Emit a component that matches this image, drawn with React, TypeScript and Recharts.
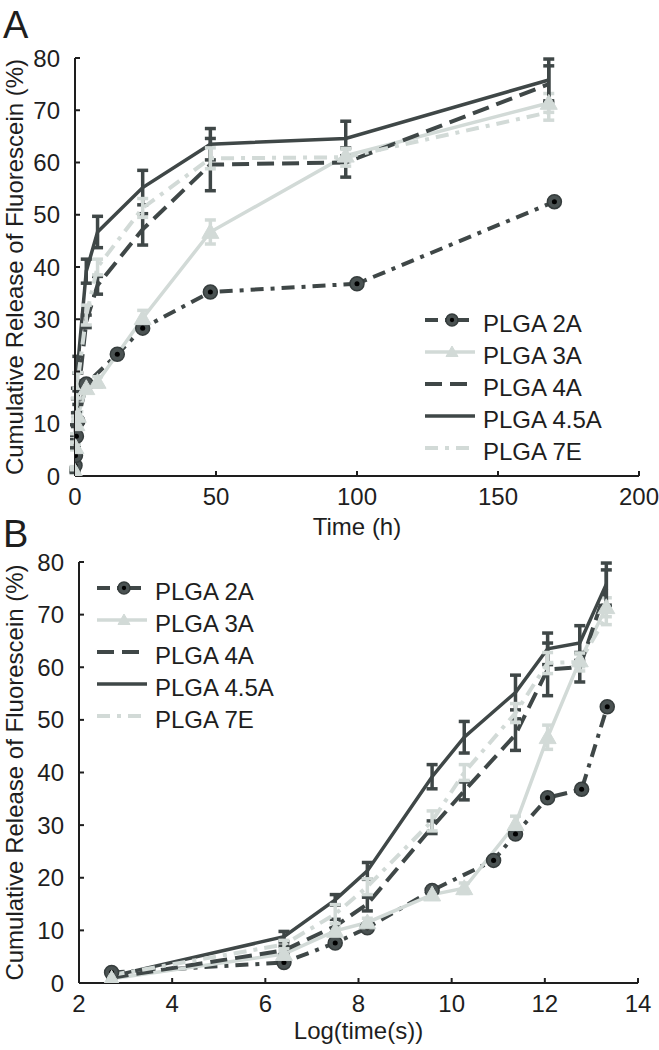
import { LineChart, Line, XAxis, YAxis, ErrorBar, Legend } from 'recharts'

const DARK = '#3f4747'
const LIGHT = '#d2dad7'
const INK = '#1e1e1e'
const FONT = '"Liberation Sans", Arial, sans-serif'

const hours = [0.004, 0.17, 0.5, 1, 4, 8, 24, 48, 96, 168]
const hours2A = [0.004, 0.17, 0.5, 1, 4, 15, 24, 48, 100, 170]
// same samples, ln(time in s)
const logTime = [2.7, 6.4, 7.5, 8.19, 9.58, 10.27, 11.37, 12.06, 12.75, 13.32]
const logTime2A = [2.7, 6.4, 7.5, 8.19, 9.58, 10.9, 11.37, 12.06, 12.79, 13.34]

// cumulative release (%)
const rel2A = [2.0, 3.9, 7.6, 10.5, 17.6, 23.3, 28.3, 35.2, 36.8, 52.5]
const rel3A = [0.8, 5.5, 9.9, 11.5, 16.8, 18.0, 30.2, 46.7, 61.3, 71.4]
const rel4A = [1.0, 6.2, 10.8, 15.0, 29.6, 36.5, 47.2, 59.6, 60.0, 75.0]
const rel45A = [1.3, 8.8, 15.8, 21.3, 39.2, 46.7, 55.2, 63.5, 64.6, 75.8]
const rel7E = [1.5, 7.3, 13.1, 18.3, 30.8, 40.0, 51.3, 60.8, 61.0, 69.6]

// error bars (+/-)
const err3A = [0.3, 0.5, 0.6, 0.8, 0.8, 1.0, 1.5, 2.3, 1.2, 1.8]
const err4A = [0.3, 0.8, 1.3, 1.3, 1.2, 1.7, 3.0, 5.0, 2.8, 3.5]
const err45A = [0.3, 1.0, 1.0, 1.6, 2.3, 3.0, 3.3, 3.0, 3.3, 4.0]
const err7E = [0.3, 0.8, 1.8, 1.5, 1.9, 1.5, 1.8, 2.0, 1.7, 1.5]

const yTicks = [0, 10, 20, 30, 40, 50, 60, 70, 80]
const xTicksA = [0, 50, 100, 150, 200]
const xTicksB = [2, 4, 6, 8, 10, 12, 14]

const series = [
  { name: 'PLGA 2A', y: rel2A, err: null, color: DARK, dash: '13 7 4 7', width: 4, marker: 'circle', own: true },
  { name: 'PLGA 3A', y: rel3A, err: err3A, color: LIGHT, dash: undefined, width: 3.5, marker: 'triangle', own: false },
  { name: 'PLGA 4A', y: rel4A, err: err4A, color: DARK, dash: '17 8', width: 4, marker: null, own: false },
  { name: 'PLGA 4.5A', y: rel45A, err: err45A, color: DARK, dash: undefined, width: 3.5, marker: null, own: false },
  { name: 'PLGA 7E', y: rel7E, err: err7E, color: LIGHT, dash: '13 7 4 7', width: 4, marker: null, own: false },
]

function CircleMark({ cx, cy, r = 7 }: any) {
  return (
    <g>
      <circle cx={cx} cy={cy} r={r} fill="#4a5252" stroke="#363d3d" strokeWidth={1.5} />
      <circle cx={cx} cy={cy} r={r * 0.36} fill="#000" />
    </g>
  )
}

function TriMark({ cx, cy, s = 8.5 }: any) {
  return (
    <polygon
      points={`${cx},${cy - s} ${cx - s},${cy + s * 0.75} ${cx + s},${cy + s * 0.75}`}
      fill={LIGHT}
      stroke={LIGHT}
      strokeWidth={1}
    />
  )
}

function makeDot(marker: string | null) {
  if (!marker) return false
  return (p: any) => {
    if (p.cx == null || p.cy == null) return <g key={`n${p.index}`} />
    return (
      <g key={`${marker}${p.index}`}>
        {marker === 'circle' ? <CircleMark cx={p.cx} cy={p.cy} /> : <TriMark cx={p.cx} cy={p.cy} />}
      </g>
    )
  }
}

function LegendBox() {
  return (
    <svg width={200} height={160} style={{ display: 'block' }}>
      {series.map((s, i) => {
        const y = 12 + i * 32
        return (
          <g key={s.name}>
            <line x1={0} y1={y} x2={50} y2={y} stroke={s.color} strokeWidth={s.width} strokeDasharray={s.dash} />
            {s.marker === 'circle' && <CircleMark cx={27} cy={y} r={6} />}
            {s.marker === 'triangle' && <TriMark cx={27} cy={y} s={6} />}
            <text x={58} y={y + 12} fontSize={24} fill={INK} fontFamily={FONT}>
              {s.name}
            </text>
          </g>
        )
      })}
    </svg>
  )
}

function ReleaseChart({ times, times2A, axisW, right, bottom, domain, ticks, xLabel, legendPos }: any) {
  const tickStyle = { fontSize: 24, fill: INK, fontFamily: FONT }
  return (
    <LineChart width={659} height={546} margin={{ top: 58, right, bottom: 0, left: 0 }}>
      <XAxis
        type="number"
        dataKey="x"
        domain={domain}
        ticks={ticks}
        interval={0}
        allowDataOverflow
        height={546 - bottom}
        tickSize={-5}
        tickMargin={17}
        tick={tickStyle}
        stroke={INK}
        strokeWidth={2}
        label={{ value: xLabel, position: 'insideBottom', offset: 11, style: { ...tickStyle, textAnchor: 'middle' } }}
      />
      <YAxis
        type="number"
        domain={[0, 80]}
        ticks={yTicks}
        interval={0}
        allowDataOverflow
        width={axisW}
        tickSize={-5}
        tickMargin={20}
        tick={tickStyle}
        stroke={INK}
        strokeWidth={2}
        label={{
          value: 'Cumulative Release of Fluorescein (%)',
          angle: -90,
          position: 'insideLeft',
          offset: 14,
          style: { ...tickStyle, textAnchor: 'middle' },
        }}
      />
      <Legend
        layout="vertical"
        align="center"
        verticalAlign="middle"
        wrapperStyle={{ left: legendPos[0], top: legendPos[1], width: 200 }}
        content={() => <LegendBox />}
      />
      {series.map((s) => {
        const xs = s.own ? times2A : times
        const data = xs.map((x: number, i: number) => ({ x, y: s.y[i], err: s.err ? s.err[i] : 0 }))
        return (
          <Line
            key={s.name}
            name={s.name}
            data={data}
            dataKey="y"
            type="linear"
            stroke={s.color}
            strokeWidth={s.width}
            strokeDasharray={s.dash}
            dot={makeDot(s.marker)}
            activeDot={false}
            isAnimationActive={false}
          >
            {s.err && <ErrorBar dataKey="err" direction="y" width={5.5} strokeWidth={3.5} stroke={s.color} />}
          </Line>
        )
      })}
    </LineChart>
  )
}

export default function App() {
  return (
    <div style={{ position: 'absolute', left: 0, top: 0, width: 659, height: 1050, background: '#fff', fontFamily: FONT }}>
      <div style={{ position: 'absolute', left: 0, top: 0 }}>
        <ReleaseChart
          times={hours}
          times2A={hours2A}
          axisW={75}
          right={20}
          bottom={476}
          domain={[0, 200]}
          ticks={xTicksA}
          xLabel="Time (h)"
          legendPos={[425, 308]}
        />
      </div>
      <div style={{ position: 'absolute', left: 0, top: 504 }}>
        <ReleaseChart
          times={logTime}
          times2A={logTime2A}
          axisW={79}
          right={21}
          bottom={479}
          domain={[2, 14]}
          ticks={xTicksB}
          xLabel="Log(time(s))"
          legendPos={[97, 72]}
        />
      </div>
      <svg width={60} height={60} style={{ position: 'absolute', left: 0, top: 0 }}>
        <text x={3} y={38} fontSize={38} fill={INK} fontFamily={FONT}>A</text>
      </svg>
      <svg width={60} height={60} style={{ position: 'absolute', left: 0, top: 500 }}>
        <text x={3} y={47} fontSize={38} fill={INK} fontFamily={FONT}>B</text>
      </svg>
    </div>
  )
}
